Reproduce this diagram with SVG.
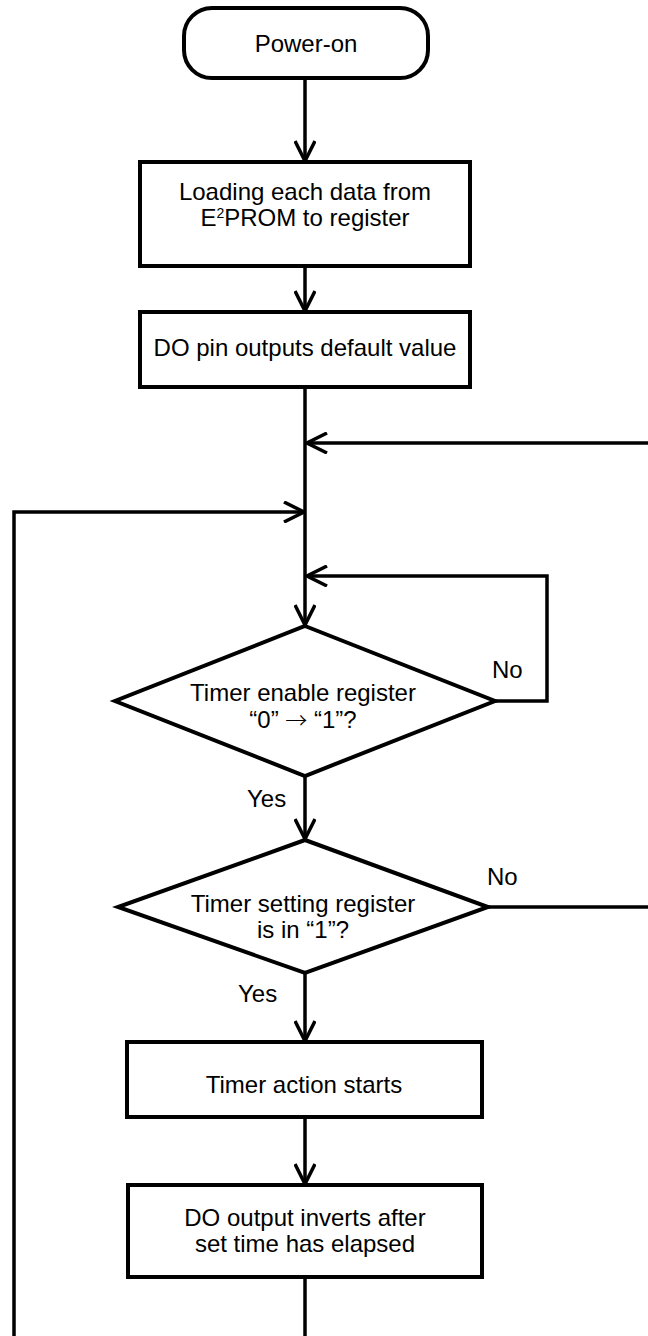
<svg xmlns="http://www.w3.org/2000/svg" width="648" height="1336" viewBox="0 0 648 1336">
<style>
.shape{fill:#fff;stroke:#000;stroke-width:4}
.conn{fill:none;stroke:#000;stroke-width:3.5}
.t{font-family:"Liberation Sans",Arial,sans-serif;font-size:24px;fill:#000;text-anchor:middle}
.l{font-family:"Liberation Sans",Arial,sans-serif;font-size:24px;fill:#000}
.ar{font-family:"Noto Sans CJK JP",sans-serif;font-size:22px;font-weight:300}
</style>
<defs>
<marker id="arr" viewBox="0 0 22 22" refX="21" refY="11" markerWidth="22" markerHeight="22" orient="auto" markerUnits="userSpaceOnUse">
<path d="M1,1 L21,11 L1,21" fill="none" stroke="#000" stroke-width="3.5"/>
</marker>
</defs>
<rect width="648" height="1336" fill="#fff"/>
<g id="connectors">
<line class="conn" x1="305" y1="78" x2="305" y2="161" marker-end="url(#arr)"/>
<line class="conn" x1="305" y1="266" x2="305" y2="311" marker-end="url(#arr)"/>
<line class="conn" x1="305" y1="387" x2="305" y2="625" marker-end="url(#arr)"/>
<line class="conn" x1="648" y1="443" x2="307" y2="443" marker-end="url(#arr)"/>
<polyline class="conn" points="14,1336 14,512 304,512" marker-end="url(#arr)"/>
<polyline class="conn" points="495,701 547,701 547,576 307,576" marker-end="url(#arr)"/>
<line class="conn" x1="305" y1="776" x2="305" y2="839" marker-end="url(#arr)"/>
<line class="conn" x1="488" y1="907" x2="648" y2="907"/>
<line class="conn" x1="305" y1="973" x2="305" y2="1041" marker-end="url(#arr)"/>
<line class="conn" x1="305" y1="1117" x2="305" y2="1184" marker-end="url(#arr)"/>
<line class="conn" x1="305" y1="1277" x2="305" y2="1336"/>
<text class="l" x="492" y="678">No</text>
<text class="l" x="247" y="807">Yes</text>
<text class="l" x="487" y="885">No</text>
<text class="l" x="238" y="1002">Yes</text>
</g>
<g id="start">
<rect class="shape" x="184" y="8" width="244" height="70" rx="28" ry="28"/>
<text class="t" x="306" y="52">Power-on</text>
</g>
<g id="load">
<rect class="shape" x="140" y="162" width="330" height="104"/>
<text class="t" x="305" y="200">Loading each data from</text>
<text class="t" x="305" y="226">E<tspan font-size="14" dy="-8">2</tspan><tspan dy="8">PROM to register</tspan></text>
</g>
<g id="default">
<rect class="shape" x="140" y="312" width="330" height="75"/>
<text class="t" x="305" y="356">DO pin outputs default value</text>
</g>
<g id="enable">
<polygon class="shape" points="305,626 495,701 305,776 115,701"/>
<text class="t" x="303" y="701">Timer enable register</text>
<text class="t" x="303" y="728">“0” <tspan class="ar">→</tspan> “1”?</text>
</g>
<g id="setting">
<polygon class="shape" points="305,840 488,907 305,973 118,907"/>
<text class="t" x="303" y="912">Timer setting register</text>
<text class="t" x="303" y="938">is in “1”?</text>
</g>
<g id="action">
<rect class="shape" x="127" y="1042" width="355" height="75"/>
<text class="t" x="304" y="1093">Timer action starts</text>
</g>
<g id="invert">
<rect class="shape" x="128" y="1185" width="354" height="92"/>
<text class="t" x="305" y="1226">DO output inverts after</text>
<text class="t" x="305" y="1252">set time has elapsed</text>
</g>
</svg>
